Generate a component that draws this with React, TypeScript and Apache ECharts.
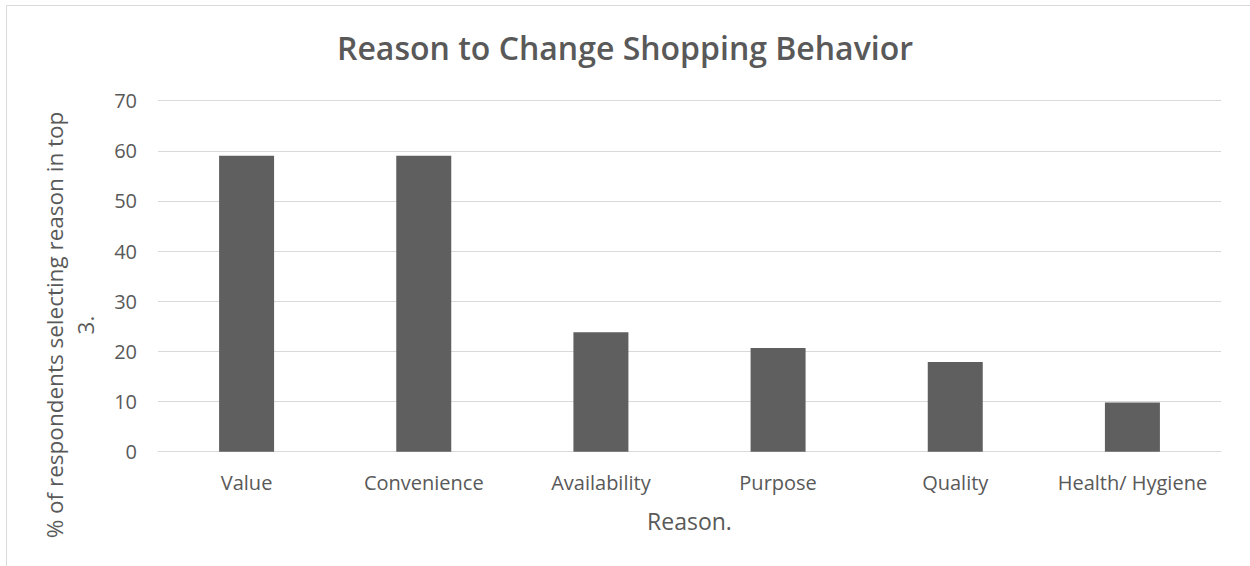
import React, { useEffect, useRef } from "react";
import * as echarts from "echarts";

const TITLE = "Reason to Change Shopping Behavior";
const CATEGORIES = ["Value", "Convenience", "Availability", "Purpose", "Quality", "Health/ Hygiene"];
const VALUES = [59, 59, 23.8, 20.7, 17.9, 9.8];
const Y_TICKS = [0, 10, 20, 30, 40, 50, 60, 70];
const X_NAME = "Reason.";
const Y_NAME = "% of respondents selecting reason in top\n3.";

const FONT = "'Open Sans', 'Noto Sans', sans-serif";
const TEXT = "#595959";

export default function App() {
  const ref = useRef<HTMLDivElement>(null);
  useEffect(() => {
    if (!ref.current) return;
    const chart = echarts.init(ref.current, null, { renderer: "svg" });
    chart.setOption({
      animation: false,
      backgroundColor: "#ffffff",
      textStyle: { fontFamily: FONT },
      title: {
        text: TITLE,
        left: "center",
        top: 26,
        textStyle: { fontFamily: FONT, fontSize: 32, fontWeight: 600, color: TEXT },
      },
      grid: { left: 158, right: 29, top: 100.7, bottom: 114.3, containLabel: false },
      xAxis: {
        type: "category",
        data: CATEGORIES,
        name: X_NAME,
        nameLocation: "middle",
        nameGap: 58,
        nameTextStyle: { fontFamily: FONT, fontSize: 23, color: TEXT },
        axisLine: { show: true, lineStyle: { color: "#d9d9d9", width: 1 } },
        axisTick: { show: false },
        axisLabel: { color: TEXT, fontSize: 20, margin: 21, fontFamily: FONT, interval: 0 },
      },
      yAxis: {
        type: "value",
        min: Y_TICKS[0],
        max: Y_TICKS[Y_TICKS.length - 1],
        interval: 10,
        axisLine: { show: false },
        axisTick: { show: false },
        splitLine: { lineStyle: { color: "#d9d9d9", width: 1 } },
        axisLabel: { color: TEXT, fontSize: 20, margin: 21, fontFamily: FONT },
      },
      series: [
        {
          type: "bar",
          data: VALUES,
          barWidth: 55,
          itemStyle: { color: "#5f5f5f" },
        },
      ],
      graphic: [
        {
          type: "rect",
          silent: true,
          shape: { x: 6.5, y: 5.5, width: 1400, height: 700 },
          style: { fill: "none", stroke: "#d9d9d9", lineWidth: 1 },
          z: -1,
        },
        {
          type: "text",
          x: 70,
          y: 325,
          rotation: Math.PI / 2,
          style: {
            text: Y_NAME,
            fontFamily: FONT,
            fontSize: 22.5,
            lineHeight: 31,
            fill: TEXT,
            align: "center",
            verticalAlign: "middle",
          },
        },
      ],
    });
    return () => chart.dispose();
  }, []);
  return (
    <div
      ref={ref}
      style={{ position: "absolute", left: 0, top: 0, width: 1250, height: 566 }}
    />
  );
}
